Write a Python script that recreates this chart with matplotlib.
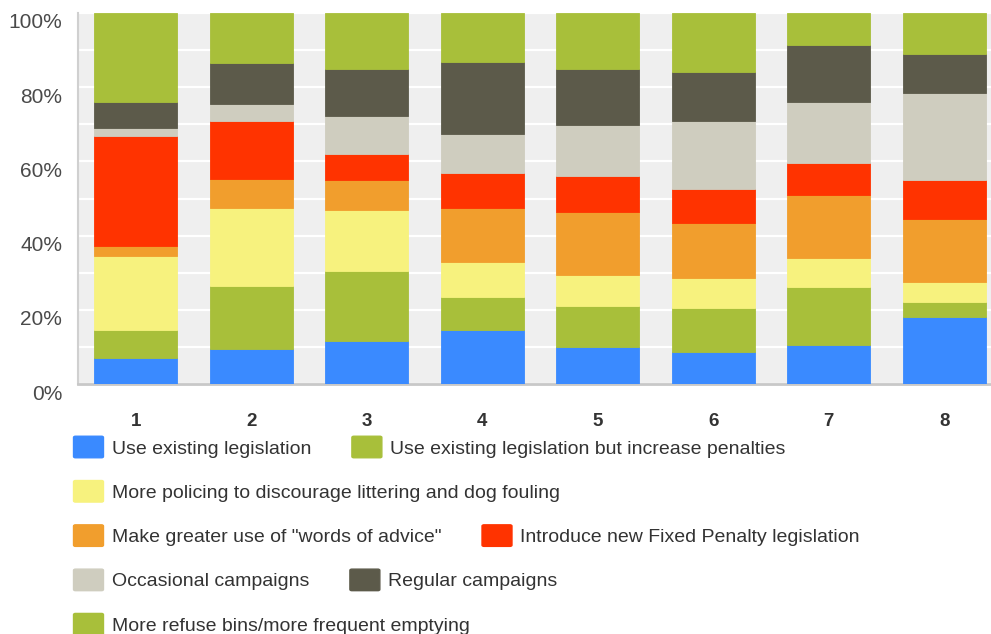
import numpy as np
import matplotlib.pyplot as plt
from matplotlib.patches import FancyBboxPatch
from matplotlib.transforms import ScaledTranslation

plt.rcParams['font.family'] = ['Liberation Sans', 'DejaVu Sans']

# --- data (percent of responses per group) ---------------------------------
groups = ['1', '2', '3', '4', '5', '6', '7', '8']

series_names = [
    'Use existing legislation',
    'Use existing legislation but increase penalties',
    'More policing to discourage littering and dog fouling',
    'Make greater use of "words of advice"',
    'Introduce new Fixed Penalty legislation',
    'Occasional campaigns',
    'Regular campaigns',
    'More refuse bins/more frequent emptying',
]

use_existing     = [6.9, 9.4, 11.5, 14.5, 10.0, 8.5, 10.5, 18.0]
increase_penalty = [7.6, 17.1, 19.0, 9.0, 11.0, 11.9, 15.6, 4.0]
more_policing    = [19.9, 20.9, 16.4, 9.5, 8.5, 8.1, 7.9, 5.4]
words_of_advice  = [2.9, 7.9, 8.0, 14.4, 16.9, 15.0, 16.9, 17.0]
fixed_penalty    = [29.6, 15.7, 7.0, 9.6, 9.6, 9.0, 8.6, 10.5]
occasional_camp  = [2.0, 4.4, 10.4, 10.4, 13.9, 18.5, 16.4, 23.5]
regular_camp     = [7.0, 11.0, 12.6, 19.5, 15.0, 13.0, 15.6, 10.5]
refuse_bins      = [24.1, 13.6, 15.1, 13.1, 15.1, 16.0, 8.5, 11.1]

series = [use_existing, increase_penalty, more_policing, words_of_advice,
          fixed_penalty, occasional_camp, regular_camp, refuse_bins]

colors = ['#3a8aff', '#a8bf3a', '#f7f27e', '#f19e2d',
          '#ff3300', '#cfcdbf', '#5c5a4a', '#a8bf3a']

# --- figure ------------------------------------------------------------------
W, H = 991, 634
fig = plt.figure(figsize=(W / 100, H / 100), dpi=100)
ax = fig.add_axes([78 / W, (H - 384) / H, (1002 - 78) / W, 371 / H])
ax.set_facecolor('#efefef')

x = np.arange(len(groups))
bottom = np.zeros(len(groups))
for vals, c in zip(series, colors):
    vals = np.array(vals)
    ax.bar(x, vals, bottom=bottom, width=0.72, color=c, zorder=3,
           edgecolor=c, linewidth=0.6)
    bottom += vals

ax.set_xlim(-0.5, len(groups) - 0.5)
ax.set_ylim(0, 100)

ax.set_yticks(np.arange(0, 101, 20))
ax.set_yticks(np.arange(10, 100, 20), minor=True)
ax.set_yticklabels([f'{v}%' for v in range(0, 101, 20)],
                   fontsize=15, color='#4a4a4a')
ax.tick_params(axis='y', which='both', length=0, pad=11.5)
for lbl in ax.get_yticklabels():
    lbl.set_transform(lbl.get_transform() +
                      ScaledTranslation(0, -8 / 100, fig.dpi_scale_trans))
ax.grid(True, axis='y', which='both', color='white', linewidth=1.6, zorder=1)

ax.set_xticks(x)
ax.set_xticklabels(groups, fontsize=13.5, fontweight='bold', color='#333333')
ax.tick_params(axis='x', length=0, pad=21)

for s in ['top', 'right']:
    ax.spines[s].set_visible(False)
ax.spines['left'].set_color('#d0d0d0')
ax.spines['left'].set_linewidth(1.5)
ax.spines['bottom'].set_color('#c8c8c8')
ax.spines['bottom'].set_linewidth(2)

# --- legend: flow layout of swatches and labels ------------------------------
fig.canvas.draw()
renderer = fig.canvas.get_renderer()

x0, y0 = 74, 447
row_gap = 44.3
max_right = 960
sw_w, sw_h = 29, 22
cx, cy = x0, y0
for name, c in zip(series_names, colors):
    t = fig.text(0, 0, name, fontsize=14, color='#333333', va='center')
    tw = t.get_window_extent(renderer).width
    item_w = sw_w + 9 + tw
    if cx > x0 and cx + item_w > max_right:
        cx = x0
        cy += row_gap
    fig.patches.append(FancyBboxPatch(
        ((cx + 1.5) / W, (H - cy - sw_h / 2 + 1.5) / H),
        (sw_w - 3) / W, (sw_h - 3) / H,
        boxstyle='round,pad=0.002', transform=fig.transFigure,
        facecolor=c, edgecolor=c, linewidth=1))
    t.set_position(((cx + sw_w + 9) / W, (H - cy - 2) / H))
    cx += item_w + 41

plt.savefig('out.png', dpi=100)
